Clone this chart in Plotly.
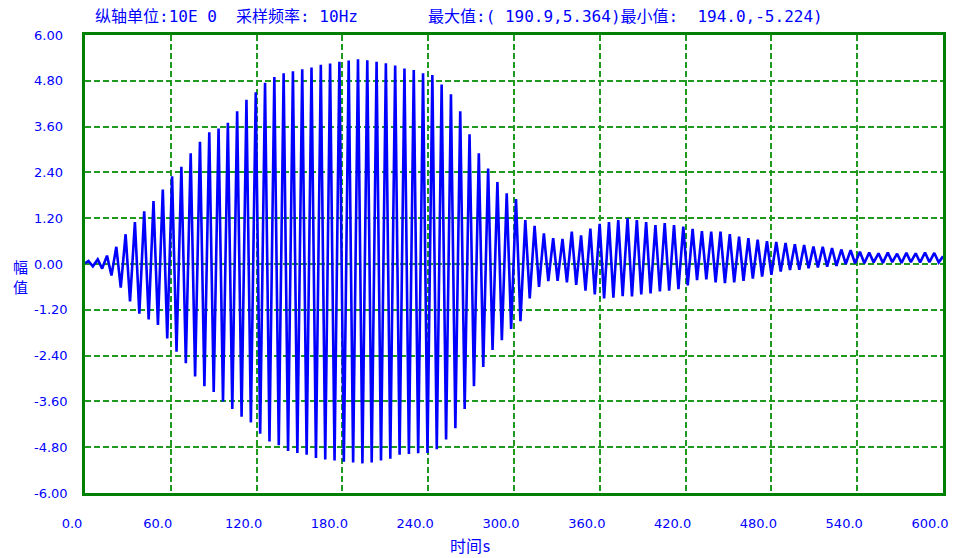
import plotly.graph_objects as go

# Waveform extrema (time in s, amplitude), sampled record at 10 Hz over 600 s
hi_t = [2.4, 8.9, 15.4, 21.9, 28.4, 34.9, 41.4, 47.9, 54.4, 60.9,
        67.4, 73.9, 80.4, 86.9, 93.4, 99.9, 106.4, 112.9, 119.4, 125.9,
        132.4, 138.9, 145.4, 151.9, 158.4, 164.9, 171.4, 177.9, 184.4, 190.9,
        197.4, 203.9, 210.4, 216.9, 223.4, 229.9, 236.4, 242.9, 249.4, 255.9,
        262.4, 268.9, 275.4, 281.9, 288.4, 294.9, 301.4, 307.9, 314.4, 320.9,
        327.4, 333.9, 340.4, 346.9, 353.4, 359.9, 366.4, 372.9, 379.4, 385.9,
        392.4, 398.9, 405.4, 411.9, 418.4, 424.9, 431.4, 437.9, 444.4, 450.9,
        457.4, 463.9, 470.4, 476.9, 483.4, 489.9, 496.4, 502.9, 509.4, 515.9,
        522.4, 528.9, 535.4, 541.9, 548.4, 554.9, 561.4, 567.9, 574.4, 580.9,
        587.4, 593.9]
hi_v = [0.08, 0.12, 0.22, 0.45, 0.78, 1.10, 1.38, 1.65, 1.95, 2.30,
        2.55, 2.90, 3.20, 3.45, 3.55, 3.70, 4.00, 4.30, 4.50, 4.75,
        4.90, 5.00, 5.05, 5.10, 5.15, 5.22, 5.25, 5.30, 5.33, 5.364,
        5.34, 5.30, 5.26, 5.20, 5.12, 5.08, 5.00, 4.95, 4.70, 4.45,
        4.00, 3.40, 2.90, 2.50, 2.15, 1.85, 1.70, 1.15, 1.00, 0.80,
        0.68, 0.66, 0.85, 0.75, 0.93, 1.05, 1.10, 1.15, 1.20, 1.15,
        1.10, 1.02, 1.07, 1.02, 0.98, 0.92, 0.86, 0.85, 0.85, 0.78,
        0.72, 0.68, 0.64, 0.60, 0.58, 0.55, 0.52, 0.50, 0.46, 0.45,
        0.42, 0.38, 0.36, 0.32, 0.30, 0.28, 0.30, 0.27, 0.29, 0.28,
        0.30, 0.29]
lo_t = [5.5, 12.0, 18.5, 25.0, 31.5, 38.0, 44.5, 51.0, 57.5, 64.0,
        70.5, 77.0, 83.5, 90.0, 96.5, 103.0, 109.5, 116.0, 122.5, 129.0,
        135.5, 142.0, 148.5, 155.0, 161.5, 168.0, 174.5, 181.0, 187.5, 194.0,
        200.5, 207.0, 213.5, 220.0, 226.5, 233.0, 239.5, 246.0, 252.5, 259.0,
        265.5, 272.0, 278.5, 285.0, 291.5, 298.0, 304.5, 311.0, 317.5, 324.0,
        330.5, 337.0, 343.5, 350.0, 356.5, 363.0, 369.5, 376.0, 382.5, 389.0,
        395.5, 402.0, 408.5, 415.0, 421.5, 428.0, 434.5, 441.0, 447.5, 454.0,
        460.5, 467.0, 473.5, 480.0, 486.5, 493.0, 499.5, 506.0, 512.5, 519.0,
        525.5, 532.0, 538.5, 545.0, 551.5, 558.0, 564.5, 571.0, 577.5, 584.0,
        590.5, 597.0]
lo_v = [-0.06, -0.12, -0.30, -0.62, -0.98, -1.30, -1.45, -1.60, -1.95, -2.30,
        -2.60, -2.95, -3.20, -3.35, -3.60, -3.80, -4.00, -4.15, -4.45, -4.65,
        -4.75, -4.90, -4.95, -5.00, -5.08, -5.12, -5.15, -5.18, -5.20, -5.224,
        -5.20, -5.15, -5.10, -5.00, -4.98, -4.96, -4.95, -4.85, -4.60, -4.30,
        -3.80, -3.20, -2.70, -2.25, -2.00, -1.70, -1.50, -0.90, -0.60, -0.45,
        -0.44, -0.48, -0.55, -0.70, -0.80, -0.90, -0.88, -0.84, -0.85, -0.80,
        -0.77, -0.72, -0.70, -0.66, -0.56, -0.42, -0.40, -0.48, -0.50, -0.48,
        -0.44, -0.38, -0.33, -0.28, -0.20, -0.16, -0.15, -0.11, -0.09, -0.07,
        -0.05, 0.00, 0.02, 0.02, 0.04, 0.03, 0.05, 0.03, 0.05, 0.04,
        0.05, 0.04]
start_t, start_v = 0.0, 0.02
end_t, end_v = 600.0, 0.20

x_ticks = [0, 60, 120, 180, 240, 300, 360, 420, 480, 540, 600]
x_tick_text = ["0.0", "60.0", "120.0", "180.0", "240.0", "300.0",
               "360.0", "420.0", "480.0", "540.0", "600.0"]
y_ticks = [6.0, 4.8, 3.6, 2.4, 1.2, 0.0, -1.2, -2.4, -3.6, -4.8, -6.0]
y_tick_text = ["6.00", "4.80", "3.60", "2.40", "1.20", "0.00",
               "-1.20", "-2.40", "-3.60", "-4.80", "-6.00"]

BLUE = "#0000FF"
GREEN = "#008000"
GRID = "#1f9a1f"
FONT = "DejaVu Sans"
MONO = "DejaVu Sans Mono"
CJK = "Noto Sans CJK SC"


def mixed(parts, cjk_px=16, latin_px=16):
    """Set CJK runs and Latin runs in separate fonts, like a fixed-width console face."""
    out = []
    for txt, is_cjk in parts:
        if is_cjk:
            out.append(f'<span style="font-family:{CJK};font-size:{cjk_px}px">{txt}</span>')
        else:
            out.append(f'<span style="font-family:{MONO};font-size:{latin_px}px">'
                       f'{txt.replace(" ", "&nbsp;")}</span>')
    return "".join(out)


header_left = mixed([("纵轴单位", True), (":10E 0  ", False), ("采样频率", True), (": 10Hz", False)])
header_right = mixed([("最大值", True), (":( 190.9,5.364)", False), ("最小值", True), (":  194.0,-5.224)", False)])
x_title = mixed([("时间", True), ("s", False)], latin_px=15)

# interleave maxima and minima into one trace
xs, ys = [start_t], [start_v]
for a, b, c, d in zip(hi_t, hi_v, lo_t, lo_v):
    xs += [a, c]
    ys += [b, d]
xs.append(end_t)
ys.append(end_v)

fig = go.Figure(go.Scatter(x=xs, y=ys, mode="lines",
                           line=dict(color=BLUE, width=2.6),
                           hoverinfo="skip"))

axis_common = dict(showline=True, mirror=True, linecolor=GREEN, linewidth=3,
                   showgrid=True, gridcolor=GRID, griddash="6px,3px", gridwidth=1.5,
                   zeroline=False, ticks="")

fig.update_xaxes(range=[0, 600], tickvals=x_ticks, ticktext=x_tick_text,
                 tickfont=dict(family=FONT, size=13, color=BLUE),
                 ticklabelshift=-13, ticklabelstandoff=16, **axis_common)
fig.update_yaxes(range=[-6, 6], tickvals=y_ticks, showticklabels=False, **axis_common)

ann = []
for v, s in zip(y_ticks, y_tick_text):
    ann.append(dict(x=0, xref="paper", y=v, yref="y", text=s, showarrow=False,
                    xanchor="left", yanchor="middle", xshift=-53,
                    font=dict(family=FONT, size=13, color=BLUE)))
ann.append(dict(x=0, xref="paper", y=0, yref="y", text="幅<br>值", showarrow=False,
                xanchor="center", yanchor="middle", xshift=-65, yshift=-12,
                font=dict(family=CJK, size=15, color=BLUE)))
ann.append(dict(x=0.449, xref="paper", y=0, yref="paper", text=x_title, showarrow=False,
                xanchor="center", yanchor="middle", yshift=-52,
                font=dict(family=CJK, size=15, color=BLUE)))
ann.append(dict(x=0, xref="paper", y=1, yref="paper", text=header_left, showarrow=False,
                xanchor="left", yanchor="middle", xshift=8, yshift=20,
                font=dict(family=CJK, size=15, color=BLUE)))
ann.append(dict(x=0, xref="paper", y=1, yref="paper", text=header_right, showarrow=False,
                xanchor="left", yanchor="middle", xshift=341, yshift=20,
                font=dict(family=CJK, size=15, color=BLUE)))

fig.update_layout(width=963, height=558, margin=dict(l=85, r=20, t=35, b=65),
                  paper_bgcolor="white", plot_bgcolor="white",
                  showlegend=False, annotations=ann)

fig.write_html("out.html")
